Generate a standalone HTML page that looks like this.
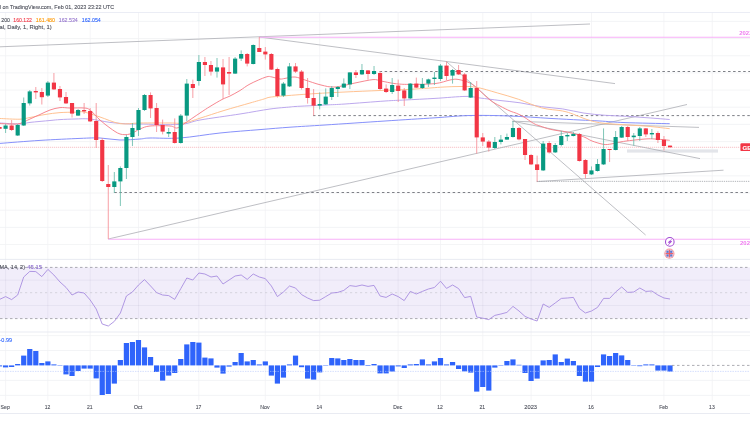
<!DOCTYPE html>
<html><head><meta charset="utf-8"><style>
html,body{margin:0;padding:0;background:#fff;overflow:hidden;width:750px;height:430px}
svg{display:block}
text{font-family:'Liberation Sans',Arial,sans-serif}
</style></head><body>
<svg width="750" height="430" viewBox="0 0 750 430">
<rect width="750" height="430" fill="#fff"/>
<rect x="0" y="267.4" width="750" height="51.2" fill="#f1edfa"/>
<line x1="5.60" y1="12.5" x2="5.60" y2="400.5" stroke="rgba(60,60,100,0.065)" stroke-width="0.8"/>
<line x1="47.88" y1="12.5" x2="47.88" y2="400.5" stroke="rgba(60,60,100,0.065)" stroke-width="0.8"/>
<line x1="90.16" y1="12.5" x2="90.16" y2="400.5" stroke="rgba(60,60,100,0.065)" stroke-width="0.8"/>
<line x1="138.48" y1="12.5" x2="138.48" y2="400.5" stroke="rgba(60,60,100,0.065)" stroke-width="0.8"/>
<line x1="198.88" y1="12.5" x2="198.88" y2="400.5" stroke="rgba(60,60,100,0.065)" stroke-width="0.8"/>
<line x1="265.32" y1="12.5" x2="265.32" y2="400.5" stroke="rgba(60,60,100,0.065)" stroke-width="0.8"/>
<line x1="319.68" y1="12.5" x2="319.68" y2="400.5" stroke="rgba(60,60,100,0.065)" stroke-width="0.8"/>
<line x1="398.20" y1="12.5" x2="398.20" y2="400.5" stroke="rgba(60,60,100,0.065)" stroke-width="0.8"/>
<line x1="440.48" y1="12.5" x2="440.48" y2="400.5" stroke="rgba(60,60,100,0.065)" stroke-width="0.8"/>
<line x1="482.76" y1="12.5" x2="482.76" y2="400.5" stroke="rgba(60,60,100,0.065)" stroke-width="0.8"/>
<line x1="531.08" y1="12.5" x2="531.08" y2="400.5" stroke="rgba(60,60,100,0.065)" stroke-width="0.8"/>
<line x1="591.48" y1="12.5" x2="591.48" y2="400.5" stroke="rgba(60,60,100,0.065)" stroke-width="0.8"/>
<line x1="663.96" y1="12.5" x2="663.96" y2="400.5" stroke="rgba(60,60,100,0.065)" stroke-width="0.8"/>
<line x1="712.28" y1="12.5" x2="712.28" y2="400.5" stroke="rgba(60,60,100,0.065)" stroke-width="0.8"/>
<line x1="0" y1="21.40" x2="750" y2="21.40" stroke="#f0f1f4" stroke-width="0.8"/>
<line x1="0" y1="38.56" x2="750" y2="38.56" stroke="#f0f1f4" stroke-width="0.8"/>
<line x1="0" y1="55.73" x2="750" y2="55.73" stroke="#f0f1f4" stroke-width="0.8"/>
<line x1="0" y1="72.89" x2="750" y2="72.89" stroke="#f0f1f4" stroke-width="0.8"/>
<line x1="0" y1="90.05" x2="750" y2="90.05" stroke="#f0f1f4" stroke-width="0.8"/>
<line x1="0" y1="107.22" x2="750" y2="107.22" stroke="#f0f1f4" stroke-width="0.8"/>
<line x1="0" y1="124.38" x2="750" y2="124.38" stroke="#f0f1f4" stroke-width="0.8"/>
<line x1="0" y1="141.54" x2="750" y2="141.54" stroke="#f0f1f4" stroke-width="0.8"/>
<line x1="0" y1="158.70" x2="750" y2="158.70" stroke="#f0f1f4" stroke-width="0.8"/>
<line x1="0" y1="175.87" x2="750" y2="175.87" stroke="#f0f1f4" stroke-width="0.8"/>
<line x1="0" y1="193.03" x2="750" y2="193.03" stroke="#f0f1f4" stroke-width="0.8"/>
<line x1="0" y1="210.19" x2="750" y2="210.19" stroke="#f0f1f4" stroke-width="0.8"/>
<line x1="0" y1="227.36" x2="750" y2="227.36" stroke="#f0f1f4" stroke-width="0.8"/>
<line x1="0" y1="244.52" x2="750" y2="244.52" stroke="#f0f1f4" stroke-width="0.8"/>
<line x1="0" y1="280.2" x2="750" y2="280.2" stroke="rgba(60,50,110,0.07)" stroke-width="0.8"/>
<line x1="0" y1="305.5" x2="750" y2="305.5" stroke="rgba(60,50,110,0.07)" stroke-width="0.8"/>
<line x1="0" y1="335.6" x2="750" y2="335.6" stroke="#f0f1f4" stroke-width="0.8"/>
<line x1="0" y1="350.5" x2="750" y2="350.5" stroke="#f0f1f4" stroke-width="0.8"/>
<line x1="0" y1="380.4" x2="750" y2="380.4" stroke="#f0f1f4" stroke-width="0.8"/>
<line x1="0" y1="395.4" x2="750" y2="395.4" stroke="#f0f1f4" stroke-width="0.8"/>
<line x1="0" y1="12.5" x2="750" y2="12.5" stroke="#e6e8f2" stroke-width="0.8"/>
<line x1="0" y1="259.4" x2="750" y2="259.4" stroke="#e3e6ef" stroke-width="0.8"/>
<line x1="0" y1="332" x2="750" y2="332" stroke="#e3e6ef" stroke-width="0.8"/>
<line x1="0" y1="413.5" x2="750" y2="413.5" stroke="#e3e6ef" stroke-width="0.8"/>
<line x1="0" y1="267.4" x2="750" y2="267.4" stroke="#8a8a92" stroke-width="0.7" stroke-dasharray="2.5 2.5"/>
<line x1="0" y1="318.6" x2="750" y2="318.6" stroke="#8a8a92" stroke-width="0.7" stroke-dasharray="2.5 2.5"/>
<line x1="0" y1="292.7" x2="750" y2="292.7" stroke="#cdccd6" stroke-width="0.8" stroke-dasharray="2.2 2.8"/>
<line x1="0" y1="147.3" x2="740" y2="147.3" stroke="#f5a9b0" stroke-width="0.7" stroke-dasharray="1.2 0.8"/>
<rect x="627" y="149.4" width="91" height="3.2" fill="#e3e5ea"/>
<line x1="0" y1="46.8" x2="590" y2="24" stroke="#a2a4aa" stroke-width="0.7"/>
<line x1="259.3" y1="37" x2="615" y2="83.6" stroke="#a2a4aa" stroke-width="0.7"/>
<line x1="446.4" y1="61.6" x2="645.6" y2="235" stroke="#a2a4aa" stroke-width="0.7"/>
<line x1="108.3" y1="239" x2="687" y2="104.5" stroke="#a2a4aa" stroke-width="0.7"/>
<line x1="512.5" y1="121.2" x2="699" y2="127.4" stroke="#a2a4aa" stroke-width="0.7"/>
<line x1="512.5" y1="121.2" x2="700" y2="158.6" stroke="#a2a4aa" stroke-width="0.7"/>
<line x1="536.8" y1="181.6" x2="723.5" y2="170.2" stroke="#a2a4aa" stroke-width="0.7"/>
<line x1="536.8" y1="181.35" x2="750" y2="181.35" stroke="#9a9ca3" stroke-width="0.75" stroke-dasharray="1.3 0.9"/>
<line x1="379.6" y1="71.5" x2="750" y2="71.5" stroke="#76787f" stroke-width="0.95" stroke-dasharray="2.5 2.55"/>
<line x1="313" y1="115.6" x2="750" y2="115.6" stroke="#76787f" stroke-width="0.95" stroke-dasharray="2.5 2.55"/>
<line x1="114.3" y1="192.5" x2="750" y2="192.5" stroke="#76787f" stroke-width="0.95" stroke-dasharray="2.5 2.55"/>
<line x1="259.3" y1="37.3" x2="750" y2="37.3" stroke="#f8b0f8" stroke-width="1.1"/>
<line x1="108.3" y1="239.3" x2="750" y2="239.3" stroke="#f8b0f8" stroke-width="1.1"/>
<path d="M0.00,143.40 C6.67,142.90 26.67,141.23 40.00,140.40 C53.33,139.57 70.00,138.80 80.00,138.40 C90.00,138.00 93.33,137.73 100.00,138.00 C106.67,138.27 113.33,139.83 120.00,140.00 C126.67,140.17 135.00,139.33 140.00,139.00 C145.00,138.67 143.33,138.17 150.00,138.00 C156.67,137.83 168.33,138.83 180.00,138.00 C191.67,137.17 206.67,134.40 220.00,133.00 C233.33,131.60 248.33,130.57 260.00,129.60 C271.67,128.63 279.17,127.97 290.00,127.20 C300.83,126.43 309.17,126.03 325.00,125.00 C340.83,123.97 366.67,122.20 385.00,121.00 C403.33,119.80 420.83,118.72 435.00,117.80 C449.17,116.88 457.50,115.80 470.00,115.50 C482.50,115.20 496.67,115.52 510.00,116.00 C523.33,116.48 538.33,117.73 550.00,118.40 C561.67,119.07 571.67,119.57 580.00,120.00 C588.33,120.43 592.50,120.57 600.00,121.00 C607.50,121.43 613.38,122.15 625.00,122.60 C636.62,123.05 662.25,123.52 669.70,123.70" fill="none" stroke="#8791fb" stroke-width="1.0"/>
<path d="M0.00,123.00 C3.33,123.17 15.00,124.10 20.00,124.00 C25.00,123.90 25.00,122.98 30.00,122.40 C35.00,121.82 45.00,120.97 50.00,120.50 C55.00,120.03 55.83,119.85 60.00,119.60 C64.17,119.35 70.00,119.10 75.00,119.00 C80.00,118.90 84.17,118.43 90.00,119.00 C95.83,119.57 103.33,121.57 110.00,122.40 C116.67,123.23 125.00,123.73 130.00,124.00 C135.00,124.27 131.67,123.93 140.00,124.00 C148.33,124.07 170.00,125.07 180.00,124.40 C190.00,123.73 190.00,121.73 200.00,120.00 C210.00,118.27 228.33,115.83 240.00,114.00 C251.67,112.17 261.67,110.17 270.00,109.00 C278.33,107.83 285.83,107.42 290.00,107.00 C294.17,106.58 289.17,106.83 295.00,106.50 C300.83,106.17 316.67,105.42 325.00,105.00 C333.33,104.58 335.00,104.67 345.00,104.00 C355.00,103.33 375.00,101.67 385.00,101.00 C395.00,100.33 396.67,100.43 405.00,100.00 C413.33,99.57 424.83,99.00 435.00,98.40 C445.17,97.80 458.50,96.47 466.00,96.40 C473.50,96.33 474.33,97.32 480.00,98.00 C485.67,98.68 493.33,99.70 500.00,100.50 C506.67,101.30 513.12,101.77 520.00,102.80 C526.88,103.83 534.20,105.68 541.30,106.70 C548.40,107.72 555.48,107.83 562.60,108.90 C569.72,109.97 576.88,112.03 584.00,113.10 C591.12,114.17 598.20,114.77 605.30,115.30 C612.40,115.83 619.48,115.88 626.60,116.30 C633.72,116.72 640.82,117.27 648.00,117.80 C655.18,118.33 666.08,119.22 669.70,119.50" fill="none" stroke="#b8a3ec" stroke-width="0.95"/>
<path d="M0.00,118.50 C3.33,118.62 15.00,119.37 20.00,119.20 C25.00,119.03 25.83,118.28 30.00,117.50 C34.17,116.72 40.00,115.32 45.00,114.50 C50.00,113.68 55.00,112.98 60.00,112.60 C65.00,112.22 71.00,112.30 75.00,112.20 C79.00,112.10 79.83,111.20 84.00,112.00 C88.17,112.80 94.00,115.07 100.00,117.00 C106.00,118.93 113.33,122.60 120.00,123.60 C126.67,124.60 131.67,123.10 140.00,123.00 C148.33,122.90 162.67,123.00 170.00,123.00 C177.33,123.00 179.00,123.80 184.00,123.00 C189.00,122.20 193.33,120.28 200.00,118.20 C206.67,116.12 215.67,113.03 224.00,110.50 C232.33,107.97 243.33,104.92 250.00,103.00 C256.67,101.08 260.67,99.97 264.00,99.00 C267.33,98.03 266.50,97.73 270.00,97.20 C273.50,96.67 277.50,96.40 285.00,95.80 C292.50,95.20 305.00,94.23 315.00,93.60 C325.00,92.97 334.17,92.52 345.00,92.00 C355.83,91.48 370.00,90.90 380.00,90.50 C390.00,90.10 396.67,90.02 405.00,89.60 C413.33,89.18 423.50,88.43 430.00,88.00 C436.50,87.57 439.00,87.25 444.00,87.00 C449.00,86.75 454.67,86.47 460.00,86.50 C465.33,86.53 469.78,86.13 476.00,87.20 C482.22,88.27 490.20,90.88 497.30,92.90 C504.40,94.92 511.27,96.82 518.60,99.30 C525.93,101.78 533.97,105.85 541.30,107.80 C548.63,109.75 557.27,109.93 562.60,111.00 C567.93,112.07 569.73,112.95 573.30,114.20 C576.87,115.45 580.45,117.25 584.00,118.50 C587.55,119.75 591.05,120.88 594.60,121.70 C598.15,122.52 599.97,122.87 605.30,123.40 C610.63,123.93 619.48,124.42 626.60,124.90 C633.72,125.38 640.82,125.67 648.00,126.30 C655.18,126.93 666.08,128.30 669.70,128.70" fill="none" stroke="#ffbf8c" stroke-width="0.95"/>
<path d="M0.00,123.50 C1.67,123.58 6.67,124.00 10.00,124.00 C13.33,124.00 16.67,124.33 20.00,123.50 C23.33,122.67 26.67,120.50 30.00,119.00 C33.33,117.50 36.67,116.00 40.00,114.50 C43.33,113.00 46.67,111.15 50.00,110.00 C53.33,108.85 56.67,107.93 60.00,107.60 C63.33,107.27 66.00,107.93 70.00,108.00 C74.00,108.07 80.67,107.67 84.00,108.00 C87.33,108.33 87.33,108.00 90.00,110.00 C92.67,112.00 96.67,117.00 100.00,120.00 C103.33,123.00 106.67,125.67 110.00,128.00 C113.33,130.33 116.67,133.00 120.00,134.00 C123.33,135.00 126.67,134.83 130.00,134.00 C133.33,133.17 136.67,130.33 140.00,129.00 C143.33,127.67 145.00,126.50 150.00,126.00 C155.00,125.50 165.50,125.67 170.00,126.00 C174.50,126.33 174.67,128.37 177.00,128.00 C179.33,127.63 180.17,126.30 184.00,123.80 C187.83,121.30 195.67,115.88 200.00,113.00 C204.33,110.12 206.33,108.75 210.00,106.50 C213.67,104.25 218.67,101.25 222.00,99.50 C225.33,97.75 227.00,97.50 230.00,96.00 C233.00,94.50 236.67,92.50 240.00,90.50 C243.33,88.50 245.67,86.25 250.00,84.00 C254.33,81.75 262.33,78.17 266.00,77.00 C269.67,75.83 269.67,76.67 272.00,77.00 C274.33,77.33 277.83,78.77 280.00,79.00 C282.17,79.23 282.50,78.73 285.00,78.40 C287.50,78.07 291.67,76.73 295.00,77.00 C298.33,77.27 300.67,78.67 305.00,80.00 C309.33,81.33 316.00,83.83 321.00,85.00 C326.00,86.17 329.33,87.33 335.00,87.00 C340.67,86.67 348.67,84.23 355.00,83.00 C361.33,81.77 368.67,79.93 373.00,79.60 C377.33,79.27 377.33,80.33 381.00,81.00 C384.67,81.67 390.33,83.03 395.00,83.60 C399.67,84.17 402.33,84.40 409.00,84.40 C415.67,84.40 428.17,84.33 435.00,83.60 C441.83,82.87 446.17,80.70 450.00,80.00 C453.83,79.30 454.67,78.90 458.00,79.40 C461.33,79.90 466.67,81.40 470.00,83.00 C473.33,84.60 474.67,86.17 478.00,89.00 C481.33,91.83 486.33,97.17 490.00,100.00 C493.67,102.83 496.67,104.17 500.00,106.00 C503.33,107.83 507.22,109.77 510.00,111.00 C512.78,112.23 514.37,112.40 516.70,113.40 C519.03,114.40 521.20,115.33 524.00,117.00 C526.80,118.67 530.83,121.90 533.50,123.40 C536.17,124.90 537.22,125.02 540.00,126.00 C542.78,126.98 546.87,128.47 550.20,129.30 C553.53,130.13 556.65,130.45 560.00,131.00 C563.35,131.55 566.35,131.63 570.30,132.60 C574.25,133.57 580.08,135.40 583.70,136.80 C587.32,138.20 588.67,139.73 592.00,141.00 C595.33,142.27 600.53,143.90 603.70,144.40 C606.87,144.90 608.78,144.28 611.00,144.00 C613.22,143.72 614.67,143.17 617.00,142.70 C619.33,142.23 620.33,141.82 625.00,141.20 C629.67,140.58 640.00,139.37 645.00,139.00 C650.00,138.63 650.88,138.78 655.00,139.00 C659.12,139.22 667.25,140.08 669.70,140.30" fill="none" stroke="#f5818a" stroke-width="0.95"/>
<line x1="-0.44" y1="127.0" x2="-0.44" y2="129.0" stroke="#f5868f" stroke-width="0.8"/>
<rect x="-2.52" y="127.0" width="4.15" height="1.80" fill="#f23645"/>
<line x1="5.60" y1="124.0" x2="5.60" y2="133.0" stroke="#5fb8a6" stroke-width="0.8"/>
<rect x="3.52" y="125.5" width="4.15" height="3.30" fill="#089981"/>
<line x1="11.64" y1="120.0" x2="11.64" y2="131.0" stroke="#f5868f" stroke-width="0.8"/>
<rect x="9.57" y="125.5" width="4.15" height="4.50" fill="#f23645"/>
<line x1="17.68" y1="124.0" x2="17.68" y2="136.0" stroke="#5fb8a6" stroke-width="0.8"/>
<rect x="15.61" y="125.0" width="4.15" height="10.50" fill="#089981"/>
<line x1="23.72" y1="97.5" x2="23.72" y2="126.0" stroke="#5fb8a6" stroke-width="0.8"/>
<rect x="21.64" y="103.0" width="4.15" height="22.50" fill="#089981"/>
<line x1="29.76" y1="90.0" x2="29.76" y2="105.5" stroke="#5fb8a6" stroke-width="0.8"/>
<rect x="27.68" y="91.4" width="4.15" height="12.00" fill="#089981"/>
<line x1="35.80" y1="87.0" x2="35.80" y2="99.0" stroke="#f5868f" stroke-width="0.8"/>
<rect x="33.72" y="91.0" width="4.15" height="1.40" fill="#f23645"/>
<line x1="41.84" y1="88.0" x2="41.84" y2="104.5" stroke="#f5868f" stroke-width="0.8"/>
<rect x="39.77" y="92.0" width="4.15" height="5.20" fill="#f23645"/>
<line x1="47.88" y1="81.0" x2="47.88" y2="97.0" stroke="#5fb8a6" stroke-width="0.8"/>
<rect x="45.80" y="82.6" width="4.15" height="13.00" fill="#089981"/>
<line x1="53.92" y1="73.0" x2="53.92" y2="90.0" stroke="#f5868f" stroke-width="0.8"/>
<rect x="51.84" y="82.6" width="4.15" height="6.80" fill="#f23645"/>
<line x1="59.96" y1="86.0" x2="59.96" y2="101.0" stroke="#f5868f" stroke-width="0.8"/>
<rect x="57.88" y="89.0" width="4.15" height="8.40" fill="#f23645"/>
<line x1="66.00" y1="92.0" x2="66.00" y2="104.0" stroke="#f5868f" stroke-width="0.8"/>
<rect x="63.92" y="97.0" width="4.15" height="6.40" fill="#f23645"/>
<line x1="72.04" y1="103.0" x2="72.04" y2="117.5" stroke="#f5868f" stroke-width="0.8"/>
<rect x="69.96" y="103.0" width="4.15" height="10.60" fill="#f23645"/>
<line x1="78.08" y1="109.0" x2="78.08" y2="116.0" stroke="#5fb8a6" stroke-width="0.8"/>
<rect x="76.00" y="110.0" width="4.15" height="5.60" fill="#089981"/>
<line x1="84.12" y1="103.0" x2="84.12" y2="114.0" stroke="#f5868f" stroke-width="0.8"/>
<rect x="82.04" y="110.0" width="4.15" height="1.40" fill="#f23645"/>
<line x1="90.16" y1="108.0" x2="90.16" y2="122.0" stroke="#f5868f" stroke-width="0.8"/>
<rect x="88.08" y="111.0" width="4.15" height="10.40" fill="#f23645"/>
<line x1="96.20" y1="103.0" x2="96.20" y2="148.0" stroke="#f5868f" stroke-width="0.8"/>
<rect x="94.12" y="121.0" width="4.15" height="19.00" fill="#f23645"/>
<line x1="102.24" y1="138.0" x2="102.24" y2="182.0" stroke="#f5868f" stroke-width="0.8"/>
<rect x="100.16" y="140.0" width="4.15" height="41.00" fill="#f23645"/>
<line x1="108.28" y1="165.0" x2="108.28" y2="239.0" stroke="#f5868f" stroke-width="0.8"/>
<rect x="106.20" y="184.0" width="4.15" height="3.00" fill="#f23645"/>
<line x1="114.32" y1="172.0" x2="114.32" y2="193.0" stroke="#5fb8a6" stroke-width="0.8"/>
<rect x="112.24" y="181.4" width="4.15" height="5.60" fill="#089981"/>
<line x1="120.36" y1="166.4" x2="120.36" y2="206.0" stroke="#5fb8a6" stroke-width="0.8"/>
<rect x="118.28" y="168.0" width="4.15" height="13.40" fill="#089981"/>
<line x1="126.40" y1="135.0" x2="126.40" y2="179.0" stroke="#5fb8a6" stroke-width="0.8"/>
<rect x="124.32" y="137.0" width="4.15" height="31.00" fill="#089981"/>
<line x1="132.44" y1="123.0" x2="132.44" y2="146.0" stroke="#5fb8a6" stroke-width="0.8"/>
<rect x="130.37" y="128.0" width="4.15" height="9.00" fill="#089981"/>
<line x1="138.48" y1="108.0" x2="138.48" y2="136.0" stroke="#5fb8a6" stroke-width="0.8"/>
<rect x="136.41" y="110.0" width="4.15" height="20.00" fill="#089981"/>
<line x1="144.52" y1="94.0" x2="144.52" y2="111.0" stroke="#5fb8a6" stroke-width="0.8"/>
<rect x="142.44" y="95.0" width="4.15" height="15.00" fill="#089981"/>
<line x1="150.56" y1="92.4" x2="150.56" y2="118.0" stroke="#f5868f" stroke-width="0.8"/>
<rect x="148.49" y="95.0" width="4.15" height="13.40" fill="#f23645"/>
<line x1="156.60" y1="103.0" x2="156.60" y2="132.0" stroke="#f5868f" stroke-width="0.8"/>
<rect x="154.53" y="108.0" width="4.15" height="17.00" fill="#f23645"/>
<line x1="162.64" y1="119.6" x2="162.64" y2="134.4" stroke="#f5868f" stroke-width="0.8"/>
<rect x="160.56" y="125.0" width="4.15" height="6.60" fill="#f23645"/>
<line x1="168.68" y1="128.0" x2="168.68" y2="137.0" stroke="#5fb8a6" stroke-width="0.8"/>
<rect x="166.61" y="132.0" width="4.15" height="1.60" fill="#089981"/>
<line x1="174.72" y1="118.4" x2="174.72" y2="143.6" stroke="#f5868f" stroke-width="0.8"/>
<rect x="172.65" y="132.0" width="4.15" height="11.00" fill="#f23645"/>
<line x1="180.76" y1="114.0" x2="180.76" y2="143.6" stroke="#5fb8a6" stroke-width="0.8"/>
<rect x="178.69" y="115.6" width="4.15" height="27.40" fill="#089981"/>
<line x1="186.80" y1="79.0" x2="186.80" y2="121.0" stroke="#5fb8a6" stroke-width="0.8"/>
<rect x="184.72" y="83.6" width="4.15" height="32.00" fill="#089981"/>
<line x1="192.84" y1="79.6" x2="192.84" y2="98.0" stroke="#f5868f" stroke-width="0.8"/>
<rect x="190.77" y="84.0" width="4.15" height="4.00" fill="#f23645"/>
<line x1="198.88" y1="55.0" x2="198.88" y2="85.6" stroke="#5fb8a6" stroke-width="0.8"/>
<rect x="196.81" y="62.0" width="4.15" height="19.00" fill="#089981"/>
<line x1="204.92" y1="57.0" x2="204.92" y2="76.0" stroke="#f5868f" stroke-width="0.8"/>
<rect x="202.84" y="62.0" width="4.15" height="3.00" fill="#f23645"/>
<line x1="210.96" y1="61.0" x2="210.96" y2="75.6" stroke="#f5868f" stroke-width="0.8"/>
<rect x="208.89" y="65.0" width="4.15" height="6.60" fill="#f23645"/>
<line x1="217.00" y1="58.0" x2="217.00" y2="77.6" stroke="#5fb8a6" stroke-width="0.8"/>
<rect x="214.93" y="67.4" width="4.15" height="4.20" fill="#089981"/>
<line x1="223.04" y1="59.0" x2="223.04" y2="99.0" stroke="#f5868f" stroke-width="0.8"/>
<rect x="220.97" y="67.4" width="4.15" height="17.00" fill="#f23645"/>
<line x1="229.08" y1="57.0" x2="229.08" y2="95.0" stroke="#f5868f" stroke-width="0.8"/>
<rect x="227.00" y="72.0" width="4.15" height="1.60" fill="#f23645"/>
<line x1="235.12" y1="57.0" x2="235.12" y2="74.0" stroke="#5fb8a6" stroke-width="0.8"/>
<rect x="233.05" y="58.6" width="4.15" height="15.00" fill="#089981"/>
<line x1="241.16" y1="50.4" x2="241.16" y2="61.0" stroke="#5fb8a6" stroke-width="0.8"/>
<rect x="239.09" y="54.0" width="4.15" height="4.60" fill="#089981"/>
<line x1="247.20" y1="53.0" x2="247.20" y2="66.4" stroke="#f5868f" stroke-width="0.8"/>
<rect x="245.12" y="54.0" width="4.15" height="9.60" fill="#f23645"/>
<line x1="253.24" y1="44.4" x2="253.24" y2="64.4" stroke="#5fb8a6" stroke-width="0.8"/>
<rect x="251.17" y="45.0" width="4.15" height="19.00" fill="#089981"/>
<line x1="259.28" y1="37.0" x2="259.28" y2="52.0" stroke="#f5868f" stroke-width="0.8"/>
<rect x="257.21" y="48.0" width="4.15" height="4.00" fill="#f23645"/>
<line x1="265.32" y1="47.0" x2="265.32" y2="59.6" stroke="#f5868f" stroke-width="0.8"/>
<rect x="263.25" y="51.6" width="4.15" height="2.80" fill="#f23645"/>
<line x1="271.36" y1="53.0" x2="271.36" y2="70.0" stroke="#f5868f" stroke-width="0.8"/>
<rect x="269.29" y="54.0" width="4.15" height="15.60" fill="#f23645"/>
<line x1="277.40" y1="67.6" x2="277.40" y2="97.6" stroke="#f5868f" stroke-width="0.8"/>
<rect x="275.33" y="69.0" width="4.15" height="27.00" fill="#f23645"/>
<line x1="283.44" y1="82.0" x2="283.44" y2="97.0" stroke="#5fb8a6" stroke-width="0.8"/>
<rect x="281.37" y="83.6" width="4.15" height="12.00" fill="#089981"/>
<line x1="289.48" y1="63.0" x2="289.48" y2="87.0" stroke="#5fb8a6" stroke-width="0.8"/>
<rect x="287.41" y="66.4" width="4.15" height="20.00" fill="#089981"/>
<line x1="295.52" y1="63.0" x2="295.52" y2="73.0" stroke="#f5868f" stroke-width="0.8"/>
<rect x="293.45" y="66.4" width="4.15" height="5.20" fill="#f23645"/>
<line x1="301.56" y1="70.0" x2="301.56" y2="89.6" stroke="#f5868f" stroke-width="0.8"/>
<rect x="299.49" y="71.6" width="4.15" height="16.40" fill="#f23645"/>
<line x1="307.60" y1="78.0" x2="307.60" y2="103.6" stroke="#f5868f" stroke-width="0.8"/>
<rect x="305.53" y="88.0" width="4.15" height="10.00" fill="#f23645"/>
<line x1="313.64" y1="89.0" x2="313.64" y2="115.6" stroke="#f5868f" stroke-width="0.8"/>
<rect x="311.57" y="98.0" width="4.15" height="7.60" fill="#f23645"/>
<line x1="319.68" y1="92.4" x2="319.68" y2="109.4" stroke="#5fb8a6" stroke-width="0.8"/>
<rect x="317.61" y="104.0" width="4.15" height="1.60" fill="#089981"/>
<line x1="325.72" y1="88.4" x2="325.72" y2="105.0" stroke="#5fb8a6" stroke-width="0.8"/>
<rect x="323.65" y="96.6" width="4.15" height="7.80" fill="#089981"/>
<line x1="331.76" y1="86.0" x2="331.76" y2="100.0" stroke="#5fb8a6" stroke-width="0.8"/>
<rect x="329.69" y="88.0" width="4.15" height="9.00" fill="#089981"/>
<line x1="337.80" y1="86.0" x2="337.80" y2="97.0" stroke="#5fb8a6" stroke-width="0.8"/>
<rect x="335.73" y="87.0" width="4.15" height="2.00" fill="#089981"/>
<line x1="343.84" y1="78.4" x2="343.84" y2="88.0" stroke="#5fb8a6" stroke-width="0.8"/>
<rect x="341.77" y="83.6" width="4.15" height="4.00" fill="#089981"/>
<line x1="349.88" y1="72.4" x2="349.88" y2="89.0" stroke="#5fb8a6" stroke-width="0.8"/>
<rect x="347.81" y="72.4" width="4.15" height="12.00" fill="#089981"/>
<line x1="355.92" y1="70.0" x2="355.92" y2="78.0" stroke="#f5868f" stroke-width="0.8"/>
<rect x="353.85" y="72.4" width="4.15" height="2.60" fill="#f23645"/>
<line x1="361.96" y1="64.0" x2="361.96" y2="75.0" stroke="#5fb8a6" stroke-width="0.8"/>
<rect x="359.89" y="70.0" width="4.15" height="4.40" fill="#089981"/>
<line x1="368.00" y1="70.0" x2="368.00" y2="79.6" stroke="#f5868f" stroke-width="0.8"/>
<rect x="365.93" y="70.4" width="4.15" height="3.60" fill="#f23645"/>
<line x1="374.04" y1="66.0" x2="374.04" y2="75.0" stroke="#5fb8a6" stroke-width="0.8"/>
<rect x="371.97" y="71.0" width="4.15" height="3.00" fill="#089981"/>
<line x1="380.08" y1="71.0" x2="380.08" y2="90.0" stroke="#f5868f" stroke-width="0.8"/>
<rect x="378.01" y="73.0" width="4.15" height="16.00" fill="#f23645"/>
<line x1="386.12" y1="84.4" x2="386.12" y2="93.0" stroke="#f5868f" stroke-width="0.8"/>
<rect x="384.05" y="88.6" width="4.15" height="3.40" fill="#f23645"/>
<line x1="392.16" y1="78.0" x2="392.16" y2="94.0" stroke="#5fb8a6" stroke-width="0.8"/>
<rect x="390.09" y="85.0" width="4.15" height="7.00" fill="#089981"/>
<line x1="398.20" y1="79.6" x2="398.20" y2="102.0" stroke="#f5868f" stroke-width="0.8"/>
<rect x="396.13" y="85.6" width="4.15" height="5.40" fill="#f23645"/>
<line x1="404.24" y1="88.0" x2="404.24" y2="106.0" stroke="#f5868f" stroke-width="0.8"/>
<rect x="402.17" y="90.4" width="4.15" height="8.00" fill="#f23645"/>
<line x1="410.28" y1="83.0" x2="410.28" y2="99.0" stroke="#5fb8a6" stroke-width="0.8"/>
<rect x="408.21" y="83.6" width="4.15" height="14.80" fill="#089981"/>
<line x1="416.32" y1="77.6" x2="416.32" y2="88.0" stroke="#f5868f" stroke-width="0.8"/>
<rect x="414.25" y="83.6" width="4.15" height="4.00" fill="#f23645"/>
<line x1="422.36" y1="78.0" x2="422.36" y2="89.0" stroke="#5fb8a6" stroke-width="0.8"/>
<rect x="420.29" y="84.0" width="4.15" height="4.00" fill="#089981"/>
<line x1="428.40" y1="78.6" x2="428.40" y2="87.0" stroke="#5fb8a6" stroke-width="0.8"/>
<rect x="426.33" y="79.4" width="4.15" height="4.20" fill="#089981"/>
<line x1="434.44" y1="72.0" x2="434.44" y2="85.0" stroke="#5fb8a6" stroke-width="0.8"/>
<rect x="432.37" y="77.6" width="4.15" height="1.40" fill="#089981"/>
<line x1="440.48" y1="64.0" x2="440.48" y2="81.0" stroke="#5fb8a6" stroke-width="0.8"/>
<rect x="438.41" y="65.6" width="4.15" height="13.40" fill="#089981"/>
<line x1="446.52" y1="61.6" x2="446.52" y2="80.0" stroke="#f5868f" stroke-width="0.8"/>
<rect x="444.45" y="65.6" width="4.15" height="10.40" fill="#f23645"/>
<line x1="452.56" y1="69.0" x2="452.56" y2="83.6" stroke="#5fb8a6" stroke-width="0.8"/>
<rect x="450.49" y="70.0" width="4.15" height="5.60" fill="#089981"/>
<line x1="458.60" y1="65.0" x2="458.60" y2="75.0" stroke="#f5868f" stroke-width="0.8"/>
<rect x="456.53" y="70.0" width="4.15" height="4.40" fill="#f23645"/>
<line x1="464.64" y1="73.0" x2="464.64" y2="91.0" stroke="#f5868f" stroke-width="0.8"/>
<rect x="462.57" y="74.4" width="4.15" height="16.00" fill="#f23645"/>
<line x1="470.68" y1="82.0" x2="470.68" y2="98.0" stroke="#5fb8a6" stroke-width="0.8"/>
<rect x="468.61" y="88.0" width="4.15" height="9.60" fill="#089981"/>
<line x1="476.72" y1="81.0" x2="476.72" y2="153.6" stroke="#f5868f" stroke-width="0.8"/>
<rect x="474.65" y="88.0" width="4.15" height="49.40" fill="#f23645"/>
<line x1="482.76" y1="133.0" x2="482.76" y2="146.0" stroke="#f5868f" stroke-width="0.8"/>
<rect x="480.69" y="137.4" width="4.15" height="4.20" fill="#f23645"/>
<line x1="488.80" y1="140.0" x2="488.80" y2="151.6" stroke="#f5868f" stroke-width="0.8"/>
<rect x="486.73" y="141.6" width="4.15" height="6.00" fill="#f23645"/>
<line x1="494.84" y1="137.0" x2="494.84" y2="149.0" stroke="#5fb8a6" stroke-width="0.8"/>
<rect x="492.77" y="142.0" width="4.15" height="6.00" fill="#089981"/>
<line x1="500.88" y1="135.0" x2="500.88" y2="144.4" stroke="#5fb8a6" stroke-width="0.8"/>
<rect x="498.81" y="139.6" width="4.15" height="2.40" fill="#089981"/>
<line x1="506.92" y1="133.6" x2="506.92" y2="140.0" stroke="#5fb8a6" stroke-width="0.8"/>
<rect x="504.85" y="137.0" width="4.15" height="2.60" fill="#089981"/>
<line x1="512.96" y1="121.0" x2="512.96" y2="137.6" stroke="#5fb8a6" stroke-width="0.8"/>
<rect x="510.89" y="128.0" width="4.15" height="9.00" fill="#089981"/>
<line x1="519.00" y1="127.0" x2="519.00" y2="140.4" stroke="#f5868f" stroke-width="0.8"/>
<rect x="516.92" y="128.0" width="4.15" height="11.40" fill="#f23645"/>
<line x1="525.04" y1="139.0" x2="525.04" y2="160.0" stroke="#f5868f" stroke-width="0.8"/>
<rect x="522.97" y="139.0" width="4.15" height="16.00" fill="#f23645"/>
<line x1="531.08" y1="154.0" x2="531.08" y2="165.0" stroke="#f5868f" stroke-width="0.8"/>
<rect x="529.00" y="155.0" width="4.15" height="9.40" fill="#f23645"/>
<line x1="537.12" y1="155.6" x2="537.12" y2="181.6" stroke="#f5868f" stroke-width="0.8"/>
<rect x="535.04" y="164.4" width="4.15" height="5.60" fill="#f23645"/>
<line x1="543.16" y1="141.0" x2="543.16" y2="171.0" stroke="#5fb8a6" stroke-width="0.8"/>
<rect x="541.09" y="143.6" width="4.15" height="26.80" fill="#089981"/>
<line x1="549.20" y1="141.0" x2="549.20" y2="153.6" stroke="#f5868f" stroke-width="0.8"/>
<rect x="547.12" y="143.0" width="4.15" height="9.40" fill="#f23645"/>
<line x1="555.24" y1="143.0" x2="555.24" y2="153.0" stroke="#5fb8a6" stroke-width="0.8"/>
<rect x="553.16" y="145.0" width="4.15" height="7.40" fill="#089981"/>
<line x1="561.28" y1="131.0" x2="561.28" y2="146.4" stroke="#5fb8a6" stroke-width="0.8"/>
<rect x="559.20" y="136.0" width="4.15" height="9.00" fill="#089981"/>
<line x1="567.32" y1="133.0" x2="567.32" y2="141.0" stroke="#5fb8a6" stroke-width="0.8"/>
<rect x="565.25" y="135.0" width="4.15" height="1.40" fill="#089981"/>
<line x1="573.36" y1="132.0" x2="573.36" y2="136.4" stroke="#5fb8a6" stroke-width="0.8"/>
<rect x="571.28" y="134.0" width="4.15" height="2.00" fill="#089981"/>
<line x1="579.40" y1="133.0" x2="579.40" y2="161.6" stroke="#f5868f" stroke-width="0.8"/>
<rect x="577.32" y="134.0" width="4.15" height="27.00" fill="#f23645"/>
<line x1="585.44" y1="159.0" x2="585.44" y2="178.4" stroke="#f5868f" stroke-width="0.8"/>
<rect x="583.37" y="160.0" width="4.15" height="14.00" fill="#f23645"/>
<line x1="591.48" y1="166.4" x2="591.48" y2="175.0" stroke="#5fb8a6" stroke-width="0.8"/>
<rect x="589.40" y="170.4" width="4.15" height="4.00" fill="#089981"/>
<line x1="597.52" y1="159.0" x2="597.52" y2="171.6" stroke="#5fb8a6" stroke-width="0.8"/>
<rect x="595.44" y="164.0" width="4.15" height="7.00" fill="#089981"/>
<line x1="603.56" y1="128.4" x2="603.56" y2="165.0" stroke="#5fb8a6" stroke-width="0.8"/>
<rect x="601.49" y="149.0" width="4.15" height="15.40" fill="#089981"/>
<line x1="609.60" y1="149.0" x2="609.60" y2="162.0" stroke="#f5868f" stroke-width="0.8"/>
<rect x="607.52" y="149.0" width="4.15" height="1.00" fill="#f23645"/>
<line x1="615.64" y1="131.0" x2="615.64" y2="150.4" stroke="#5fb8a6" stroke-width="0.8"/>
<rect x="613.56" y="137.0" width="4.15" height="13.00" fill="#089981"/>
<line x1="621.68" y1="126.0" x2="621.68" y2="138.0" stroke="#5fb8a6" stroke-width="0.8"/>
<rect x="619.61" y="127.0" width="4.15" height="10.60" fill="#089981"/>
<line x1="627.72" y1="126.0" x2="627.72" y2="141.0" stroke="#f5868f" stroke-width="0.8"/>
<rect x="625.64" y="127.0" width="4.15" height="10.00" fill="#f23645"/>
<line x1="633.76" y1="133.0" x2="633.76" y2="145.6" stroke="#5fb8a6" stroke-width="0.8"/>
<rect x="631.68" y="135.6" width="4.15" height="1.60" fill="#089981"/>
<line x1="639.80" y1="127.0" x2="639.80" y2="141.0" stroke="#5fb8a6" stroke-width="0.8"/>
<rect x="637.73" y="128.4" width="4.15" height="7.60" fill="#089981"/>
<line x1="645.84" y1="128.0" x2="645.84" y2="137.0" stroke="#f5868f" stroke-width="0.8"/>
<rect x="643.76" y="128.4" width="4.15" height="6.00" fill="#f23645"/>
<line x1="651.88" y1="129.0" x2="651.88" y2="139.0" stroke="#5fb8a6" stroke-width="0.8"/>
<rect x="649.80" y="133.0" width="4.15" height="1.40" fill="#089981"/>
<line x1="657.92" y1="131.3" x2="657.92" y2="143.0" stroke="#f5868f" stroke-width="0.8"/>
<rect x="655.85" y="133.0" width="4.15" height="7.00" fill="#f23645"/>
<line x1="663.96" y1="136.0" x2="663.96" y2="150.5" stroke="#f5868f" stroke-width="0.8"/>
<rect x="661.88" y="139.7" width="4.15" height="6.30" fill="#f23645"/>
<line x1="670.00" y1="145.6" x2="670.00" y2="147.3" stroke="#f5868f" stroke-width="0.8"/>
<rect x="667.92" y="145.6" width="4.15" height="1.70" fill="#f23645"/>
<polyline points="-0.4,299.4 5.6,296.6 11.6,299.6 17.7,295.0 23.7,277.0 29.8,271.4 35.8,271.6 41.8,276.6 47.9,269.4 53.9,275.0 60.0,282.0 66.0,287.4 72.0,295.0 78.1,292.0 84.1,293.0 90.2,300.0 96.2,309.0 102.2,324.0 108.3,326.0 114.3,321.4 120.4,313.0 126.4,296.0 132.4,292.0 138.5,285.0 144.5,279.6 150.6,286.0 156.6,292.6 162.6,295.0 168.7,295.6 174.7,299.4 180.8,288.6 186.8,278.0 192.8,280.0 198.9,273.0 204.9,274.0 211.0,277.0 217.0,276.0 223.0,284.0 229.1,280.0 235.1,276.0 241.2,275.0 247.2,279.4 253.2,274.0 259.3,277.0 265.3,278.6 271.4,286.0 277.4,296.6 283.4,292.0 289.5,286.0 295.5,288.0 301.6,294.6 307.6,298.0 313.6,300.6 319.7,300.2 325.7,296.6 331.8,293.0 337.8,292.4 343.8,290.4 349.9,285.6 355.9,286.4 362.0,285.0 368.0,286.4 374.0,285.4 380.1,296.0 386.1,297.4 392.2,294.0 398.2,296.6 404.2,300.6 410.3,291.4 416.3,294.0 422.4,291.4 428.4,289.0 434.4,287.5 440.5,281.2 446.5,288.4 452.6,285.0 458.6,288.6 464.6,297.6 470.7,296.4 476.7,317.0 482.8,318.2 488.8,319.6 494.8,315.4 500.9,314.0 506.9,312.4 513.0,306.4 519.0,311.0 525.0,316.4 531.1,319.0 537.1,321.0 543.2,304.0 549.2,307.4 555.2,303.0 561.3,298.4 567.3,298.0 573.4,297.4 579.4,308.5 585.4,313.0 591.5,311.0 597.5,307.4 603.6,298.4 609.6,298.4 615.6,292.0 621.7,287.0 627.7,292.4 633.8,292.0 639.8,288.0 645.8,291.4 651.9,291.0 657.9,295.0 664.0,298.0 670.0,299.0" fill="none" stroke="#a88de0" stroke-width="0.9" stroke-linejoin="round"/>
<rect x="-3.04" y="365.40" width="5.2" height="1.00" fill="#2f64fb"/>
<rect x="3.00" y="365.40" width="5.2" height="2.00" fill="#2f64fb"/>
<rect x="9.04" y="365.40" width="5.2" height="1.60" fill="#2f64fb"/>
<rect x="15.08" y="364.00" width="5.2" height="1.40" fill="#2f64fb"/>
<rect x="21.12" y="355.60" width="5.2" height="9.80" fill="#2f64fb"/>
<rect x="27.16" y="349.00" width="5.2" height="16.40" fill="#2f64fb"/>
<rect x="33.20" y="351.00" width="5.2" height="14.40" fill="#2f64fb"/>
<rect x="39.24" y="363.00" width="5.2" height="2.40" fill="#2f64fb"/>
<rect x="45.28" y="361.40" width="5.2" height="4.00" fill="#2f64fb"/>
<rect x="51.32" y="364.40" width="5.2" height="1.00" fill="#2f64fb"/>
<rect x="57.36" y="365.40" width="5.2" height="0.40" fill="#2f64fb"/>
<rect x="63.40" y="365.40" width="5.2" height="9.00" fill="#2f64fb"/>
<rect x="69.44" y="365.40" width="5.2" height="10.60" fill="#2f64fb"/>
<rect x="75.48" y="365.40" width="5.2" height="5.60" fill="#2f64fb"/>
<rect x="81.52" y="365.40" width="5.2" height="3.20" fill="#2f64fb"/>
<rect x="87.56" y="365.40" width="5.2" height="3.20" fill="#2f64fb"/>
<rect x="93.60" y="365.40" width="5.2" height="13.00" fill="#2f64fb"/>
<rect x="99.64" y="365.40" width="5.2" height="29.60" fill="#2f64fb"/>
<rect x="105.68" y="365.40" width="5.2" height="28.60" fill="#2f64fb"/>
<rect x="111.72" y="365.40" width="5.2" height="18.20" fill="#2f64fb"/>
<rect x="117.76" y="360.00" width="5.2" height="5.40" fill="#2f64fb"/>
<rect x="123.80" y="343.00" width="5.2" height="22.40" fill="#2f64fb"/>
<rect x="129.84" y="342.00" width="5.2" height="23.40" fill="#2f64fb"/>
<rect x="135.88" y="340.00" width="5.2" height="25.40" fill="#2f64fb"/>
<rect x="141.92" y="347.40" width="5.2" height="18.00" fill="#2f64fb"/>
<rect x="147.96" y="357.00" width="5.2" height="8.40" fill="#2f64fb"/>
<rect x="154.00" y="365.40" width="5.2" height="6.60" fill="#2f64fb"/>
<rect x="160.04" y="365.40" width="5.2" height="15.20" fill="#2f64fb"/>
<rect x="166.08" y="365.40" width="5.2" height="10.20" fill="#2f64fb"/>
<rect x="172.12" y="365.40" width="5.2" height="7.60" fill="#2f64fb"/>
<rect x="178.16" y="359.00" width="5.2" height="6.40" fill="#2f64fb"/>
<rect x="184.20" y="344.40" width="5.2" height="21.00" fill="#2f64fb"/>
<rect x="190.24" y="342.00" width="5.2" height="23.40" fill="#2f64fb"/>
<rect x="196.28" y="342.60" width="5.2" height="22.80" fill="#2f64fb"/>
<rect x="202.32" y="357.60" width="5.2" height="7.80" fill="#2f64fb"/>
<rect x="208.36" y="358.40" width="5.2" height="7.00" fill="#2f64fb"/>
<rect x="214.40" y="365.40" width="5.2" height="2.20" fill="#2f64fb"/>
<rect x="220.44" y="365.40" width="5.2" height="8.20" fill="#2f64fb"/>
<rect x="226.48" y="365.40" width="5.2" height="1.20" fill="#2f64fb"/>
<rect x="232.52" y="362.00" width="5.2" height="3.40" fill="#2f64fb"/>
<rect x="238.56" y="353.00" width="5.2" height="12.40" fill="#2f64fb"/>
<rect x="244.60" y="361.40" width="5.2" height="4.00" fill="#2f64fb"/>
<rect x="250.64" y="360.00" width="5.2" height="5.40" fill="#2f64fb"/>
<rect x="256.68" y="364.40" width="5.2" height="1.00" fill="#2f64fb"/>
<rect x="262.72" y="361.40" width="5.2" height="4.00" fill="#2f64fb"/>
<rect x="268.76" y="365.40" width="5.2" height="10.20" fill="#2f64fb"/>
<rect x="274.80" y="365.40" width="5.2" height="18.20" fill="#2f64fb"/>
<rect x="280.84" y="365.40" width="5.2" height="12.20" fill="#2f64fb"/>
<rect x="286.88" y="364.40" width="5.2" height="1.00" fill="#2f64fb"/>
<rect x="292.92" y="355.60" width="5.2" height="9.80" fill="#2f64fb"/>
<rect x="298.96" y="365.40" width="5.2" height="1.80" fill="#2f64fb"/>
<rect x="305.00" y="365.40" width="5.2" height="13.20" fill="#2f64fb"/>
<rect x="311.04" y="365.40" width="5.2" height="14.20" fill="#2f64fb"/>
<rect x="317.08" y="365.40" width="5.2" height="7.00" fill="#2f64fb"/>
<rect x="323.12" y="365.00" width="5.2" height="0.40" fill="#2f64fb"/>
<rect x="329.16" y="358.00" width="5.2" height="7.40" fill="#2f64fb"/>
<rect x="335.20" y="358.40" width="5.2" height="7.00" fill="#2f64fb"/>
<rect x="341.24" y="360.00" width="5.2" height="5.40" fill="#2f64fb"/>
<rect x="347.28" y="359.00" width="5.2" height="6.40" fill="#2f64fb"/>
<rect x="353.32" y="360.00" width="5.2" height="5.40" fill="#2f64fb"/>
<rect x="359.36" y="360.00" width="5.2" height="5.40" fill="#2f64fb"/>
<rect x="365.40" y="365.40" width="5.2" height="0.60" fill="#2f64fb"/>
<rect x="371.44" y="364.00" width="5.2" height="1.40" fill="#2f64fb"/>
<rect x="377.48" y="365.40" width="5.2" height="8.00" fill="#2f64fb"/>
<rect x="383.52" y="365.40" width="5.2" height="8.00" fill="#2f64fb"/>
<rect x="389.56" y="365.40" width="5.2" height="6.20" fill="#2f64fb"/>
<rect x="395.60" y="365.40" width="5.2" height="1.00" fill="#2f64fb"/>
<rect x="401.64" y="365.40" width="5.2" height="2.60" fill="#2f64fb"/>
<rect x="407.68" y="364.40" width="5.2" height="1.00" fill="#2f64fb"/>
<rect x="413.72" y="364.00" width="5.2" height="1.40" fill="#2f64fb"/>
<rect x="419.76" y="359.40" width="5.2" height="6.00" fill="#2f64fb"/>
<rect x="425.80" y="364.40" width="5.2" height="1.00" fill="#2f64fb"/>
<rect x="431.84" y="361.40" width="5.2" height="4.00" fill="#2f64fb"/>
<rect x="437.88" y="358.00" width="5.2" height="7.40" fill="#2f64fb"/>
<rect x="443.92" y="364.40" width="5.2" height="1.00" fill="#2f64fb"/>
<rect x="449.96" y="362.00" width="5.2" height="3.40" fill="#2f64fb"/>
<rect x="456.00" y="365.40" width="5.2" height="3.60" fill="#2f64fb"/>
<rect x="462.04" y="365.40" width="5.2" height="6.00" fill="#2f64fb"/>
<rect x="468.08" y="365.40" width="5.2" height="7.20" fill="#2f64fb"/>
<rect x="474.12" y="365.40" width="5.2" height="26.20" fill="#2f64fb"/>
<rect x="480.16" y="365.40" width="5.2" height="21.60" fill="#2f64fb"/>
<rect x="486.20" y="365.40" width="5.2" height="25.20" fill="#2f64fb"/>
<rect x="492.24" y="365.40" width="5.2" height="2.20" fill="#2f64fb"/>
<rect x="498.28" y="365.00" width="5.2" height="0.40" fill="#2f64fb"/>
<rect x="504.32" y="361.00" width="5.2" height="4.40" fill="#2f64fb"/>
<rect x="510.36" y="359.40" width="5.2" height="6.00" fill="#2f64fb"/>
<rect x="516.40" y="364.80" width="5.2" height="0.60" fill="#2f64fb"/>
<rect x="522.44" y="365.40" width="5.2" height="7.60" fill="#2f64fb"/>
<rect x="528.48" y="365.40" width="5.2" height="15.60" fill="#2f64fb"/>
<rect x="534.52" y="365.40" width="5.2" height="13.20" fill="#2f64fb"/>
<rect x="540.56" y="360.40" width="5.2" height="5.00" fill="#2f64fb"/>
<rect x="546.60" y="360.00" width="5.2" height="5.40" fill="#2f64fb"/>
<rect x="552.64" y="354.40" width="5.2" height="11.00" fill="#2f64fb"/>
<rect x="558.68" y="362.00" width="5.2" height="3.40" fill="#2f64fb"/>
<rect x="564.72" y="358.60" width="5.2" height="6.80" fill="#2f64fb"/>
<rect x="570.76" y="361.00" width="5.2" height="4.40" fill="#2f64fb"/>
<rect x="576.80" y="365.40" width="5.2" height="10.60" fill="#2f64fb"/>
<rect x="582.84" y="365.40" width="5.2" height="16.20" fill="#2f64fb"/>
<rect x="588.88" y="365.40" width="5.2" height="16.20" fill="#2f64fb"/>
<rect x="594.92" y="365.40" width="5.2" height="1.60" fill="#2f64fb"/>
<rect x="600.96" y="354.40" width="5.2" height="11.00" fill="#2f64fb"/>
<rect x="607.00" y="356.00" width="5.2" height="9.40" fill="#2f64fb"/>
<rect x="613.04" y="353.00" width="5.2" height="12.40" fill="#2f64fb"/>
<rect x="619.08" y="355.40" width="5.2" height="10.00" fill="#2f64fb"/>
<rect x="625.12" y="360.00" width="5.2" height="5.40" fill="#2f64fb"/>
<rect x="631.16" y="365.00" width="5.2" height="0.40" fill="#2f64fb"/>
<rect x="637.20" y="365.40" width="5.2" height="0.80" fill="#2f64fb"/>
<rect x="643.24" y="364.40" width="5.2" height="1.00" fill="#2f64fb"/>
<rect x="649.28" y="364.40" width="5.2" height="1.00" fill="#2f64fb"/>
<rect x="655.32" y="365.40" width="5.2" height="5.20" fill="#2f64fb"/>
<rect x="661.36" y="365.40" width="5.2" height="5.20" fill="#2f64fb"/>
<rect x="667.40" y="365.40" width="5.2" height="6.20" fill="#2f64fb"/>
<line x1="672" y1="365.4" x2="750" y2="365.4" stroke="#8a8a92" stroke-width="0.7" stroke-dasharray="2.5 2.5"/>
<line x1="0" y1="371.4" x2="750" y2="371.4" stroke="#b7c7fc" stroke-width="0.6" stroke-dasharray="1.4 1.1"/>
<circle cx="669.8" cy="241.9" r="4.3" fill="#fff" stroke="#a04ad2" stroke-width="1.05"/>
<path d="M671.7,239.2 L667.9,242.6 L670.0,242.6 L668.2,245.0 L672.0,241.3 L669.9,241.3 Z" fill="#9a36d0" stroke="#9a36d0" stroke-width="0.3" stroke-linejoin="round"/>
<circle cx="669.4" cy="253.6" r="5.1" fill="#f49aa2"/>
<circle cx="669.4" cy="253.6" r="4.1" fill="#f7dbe4"/>
<rect x="666.4" y="250.6" width="2.3" height="2.3" fill="#5d78d0"/>
<rect x="670.1" y="250.6" width="2.3" height="2.3" fill="#5d78d0"/>
<rect x="666.4" y="254.3" width="2.3" height="2.3" fill="#5d78d0"/>
<rect x="670.1" y="254.3" width="2.3" height="2.3" fill="#5d78d0"/>
<path d="M665.6,253.6 H673.2 M669.4,249.8 V257.4" stroke="#ec5560" stroke-width="1"/>
<rect x="740.4" y="143.3" width="14" height="7.8" rx="1.2" fill="#f23645"/>
<text x="-0.3" y="8.6" font-size="6.1" fill="#4a4d58" text-anchor="start" font-weight="normal"  stroke="#4a4d58" stroke-width="0.1" textLength="114.5" lengthAdjust="spacingAndGlyphs">l on TradingView.com, Feb 01, 2023 23:22 UTC</text>
<text x="1.3" y="21.5" font-size="6.1" fill="#4a4d58" text-anchor="start" font-weight="normal"  stroke="#4a4d58" stroke-width="0.1" textLength="8.7" lengthAdjust="spacingAndGlyphs">200</text>
<text x="13.3" y="21.5" font-size="6.1" fill="#f23645" text-anchor="start" font-weight="normal"  stroke="#f23645" stroke-width="0.1" textLength="18.7" lengthAdjust="spacingAndGlyphs">160.122</text>
<text x="35.8" y="21.5" font-size="6.1" fill="#ff9800" text-anchor="start" font-weight="normal"  stroke="#ff9800" stroke-width="0.1" textLength="19.2" lengthAdjust="spacingAndGlyphs">161.480</text>
<text x="58.7" y="21.5" font-size="6.1" fill="#9575cd" text-anchor="start" font-weight="normal"  stroke="#9575cd" stroke-width="0.1" textLength="19.1" lengthAdjust="spacingAndGlyphs">162.534</text>
<text x="81.7" y="21.5" font-size="6.1" fill="#2962ff" text-anchor="start" font-weight="normal"  stroke="#2962ff" stroke-width="0.1" textLength="19.1" lengthAdjust="spacingAndGlyphs">162.054</text>
<text x="-0.5" y="29.0" font-size="6.1" fill="#4a4d58" text-anchor="start" font-weight="normal"  stroke="#4a4d58" stroke-width="0.1" textLength="52.2" lengthAdjust="spacingAndGlyphs">al, Daily, 1, Right, 1)</text>
<text x="-0.5" y="268.9" font-size="6.1" fill="#4a4d58" text-anchor="start" font-weight="normal"  stroke="#4a4d58" stroke-width="0.1" textLength="25.5" lengthAdjust="spacingAndGlyphs">MA, 14, 2)</text>
<text x="27.3" y="268.9" font-size="6.1" fill="#8e6fd0" text-anchor="start" font-weight="normal"  stroke="#8e6fd0" stroke-width="0.1" textLength="14.7" lengthAdjust="spacingAndGlyphs">45.15</text>
<text x="-0.5" y="341.6" font-size="6.1" fill="#2962ff" text-anchor="start" font-weight="normal"  stroke="#2962ff" stroke-width="0.1" textLength="12.5" lengthAdjust="spacingAndGlyphs">-0.99</text>
<text x="5.20" y="409.3" font-size="6.2" fill="#4a4d58" text-anchor="middle" font-weight="normal"  stroke="#4a4d58" stroke-width="0.1" textLength="9.2" lengthAdjust="spacingAndGlyphs">Sep</text>
<text x="47.48" y="409.3" font-size="6.2" fill="#4a4d58" text-anchor="middle" font-weight="normal"  stroke="#4a4d58" stroke-width="0.1" textLength="5.6" lengthAdjust="spacingAndGlyphs">12</text>
<text x="89.76" y="409.3" font-size="6.2" fill="#4a4d58" text-anchor="middle" font-weight="normal"  stroke="#4a4d58" stroke-width="0.1" textLength="5.6" lengthAdjust="spacingAndGlyphs">21</text>
<text x="138.08" y="409.3" font-size="6.2" fill="#4a4d58" text-anchor="middle" font-weight="normal"  stroke="#4a4d58" stroke-width="0.1" textLength="8.6" lengthAdjust="spacingAndGlyphs">Oct</text>
<text x="198.48" y="409.3" font-size="6.2" fill="#4a4d58" text-anchor="middle" font-weight="normal"  stroke="#4a4d58" stroke-width="0.1" textLength="5.6" lengthAdjust="spacingAndGlyphs">17</text>
<text x="264.92" y="409.3" font-size="6.2" fill="#4a4d58" text-anchor="middle" font-weight="normal"  stroke="#4a4d58" stroke-width="0.1" textLength="9.4" lengthAdjust="spacingAndGlyphs">Nov</text>
<text x="319.28" y="409.3" font-size="6.2" fill="#4a4d58" text-anchor="middle" font-weight="normal"  stroke="#4a4d58" stroke-width="0.1" textLength="5.6" lengthAdjust="spacingAndGlyphs">14</text>
<text x="397.80" y="409.3" font-size="6.2" fill="#4a4d58" text-anchor="middle" font-weight="normal"  stroke="#4a4d58" stroke-width="0.1" textLength="9.0" lengthAdjust="spacingAndGlyphs">Dec</text>
<text x="440.08" y="409.3" font-size="6.2" fill="#4a4d58" text-anchor="middle" font-weight="normal"  stroke="#4a4d58" stroke-width="0.1" textLength="5.6" lengthAdjust="spacingAndGlyphs">12</text>
<text x="482.36" y="409.3" font-size="6.2" fill="#4a4d58" text-anchor="middle" font-weight="normal"  stroke="#4a4d58" stroke-width="0.1" textLength="5.6" lengthAdjust="spacingAndGlyphs">21</text>
<text x="530.68" y="409.3" font-size="6.2" fill="#4a4d58" text-anchor="middle" font-weight="normal"  stroke="#4a4d58" stroke-width="0.1" textLength="12.8" lengthAdjust="spacingAndGlyphs">2023</text>
<text x="591.08" y="409.3" font-size="6.2" fill="#4a4d58" text-anchor="middle" font-weight="normal"  stroke="#4a4d58" stroke-width="0.1" textLength="5.6" lengthAdjust="spacingAndGlyphs">16</text>
<text x="663.56" y="409.3" font-size="6.2" fill="#4a4d58" text-anchor="middle" font-weight="normal"  stroke="#4a4d58" stroke-width="0.1" textLength="8.8" lengthAdjust="spacingAndGlyphs">Feb</text>
<text x="711.88" y="409.3" font-size="6.2" fill="#4a4d58" text-anchor="middle" font-weight="normal"  stroke="#4a4d58" stroke-width="0.1" textLength="5.6" lengthAdjust="spacingAndGlyphs">13</text>
<text x="739.3" y="34.9" font-size="5.9" fill="#f07af0" text-anchor="start" font-weight="bold" >2022</text>
<text x="740.1" y="245.1" font-size="5.9" fill="#f07af0" text-anchor="start" font-weight="bold" >2022</text>
<text x="742.6" y="149.6" font-size="6.0" fill="#ffffff" text-anchor="start" font-weight="bold"  stroke="#ffffff" stroke-width="0.1">GB</text>
</svg>
</body></html>
